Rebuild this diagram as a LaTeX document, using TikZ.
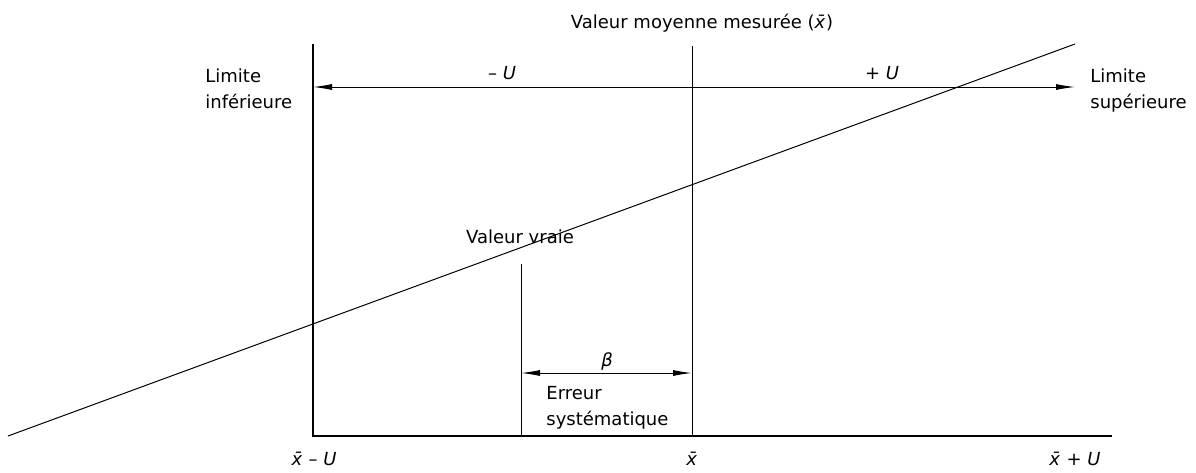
\documentclass[tikz,border=0pt]{standalone}
\usepackage{fontspec}
\setmainfont{DejaVu Sans}
\usetikzlibrary{arrows.meta, positioning}

\begin{document}
\begin{tikzpicture}[
    x=0.5pt, y=-0.5pt,
    font=\fontsize{9}{13}\selectfont,
    axe/.style={line width=1pt},
    trait/.style={line width=0.5pt},
    cote/.style={{Latex[length=9.5pt, width=3pt]}-{Latex[length=9.5pt, width=3pt]}, line width=0.5pt},
    lbl/.style={inner sep=0pt},
    txt/.style={inner sep=0pt, align=left, anchor=north west}
  ]
    \useasboundingbox (0,0) rectangle (1196,472);

    \coordinate (haut) at (313,44);
    \coordinate (orig) at (313,436);
    \coordinate (fin) at (1112,436);
    \coordinate (moyH) at (692,46);
    \coordinate (moyB) at (692,436);
    \coordinate (vraiH) at (521,264);
    \coordinate (vraiB) at (521,436);
    \coordinate (droiteA) at (8,436);
    \coordinate (droiteB) at (1075,44);
    \coordinate (limInf) at (313,87);
    \coordinate (limSup) at (1075,87);
    \coordinate (betaG) at (521,373);
    \coordinate (betaD) at (692,373);

    \draw[axe] (haut) -- (orig) -- (fin);
    \draw[trait] (moyH) -- (moyB);
    \draw[trait] (vraiH) -- (vraiB);
    \draw[trait] (droiteA) -- (droiteB);
    \draw[cote] (limInf) -- (limSup);
    \draw[cote] (betaG) -- (betaD);

    \node[lbl, anchor=base] (titre) at (702,28) {Valeur moyenne mesurée (\textit{\={x}})};
    \node[txt] (inf) at (205,68) {Limite\\inférieure};
    \node[txt] (sup) at (1090,68) {Limite\\supérieure};
    \node[lbl, anchor=base] (moinsU) at (502,79) {– \textit{U}};
    \node[lbl, anchor=base] (plusU) at (882,79) {+ \textit{U}};
    \node[lbl, anchor=base] (vraie) at (520,243) {Valeur vraie};
    \node[lbl] (beta) at (607,361) {\textit{β}};
    \node[txt] (erreur) at (546,386) {Erreur\\systématique};
    \node[lbl, anchor=base] (xmoins) at (314,465) {\textit{\={x}} – \textit{U}};
    \node[lbl, anchor=base] (xmoy) at (692,465) {\textit{\={x}}};
    \node[lbl, anchor=base] (xplus) at (1075,465) {\textit{\={x}} + \textit{U}};
  \end{tikzpicture}
\end{document}
